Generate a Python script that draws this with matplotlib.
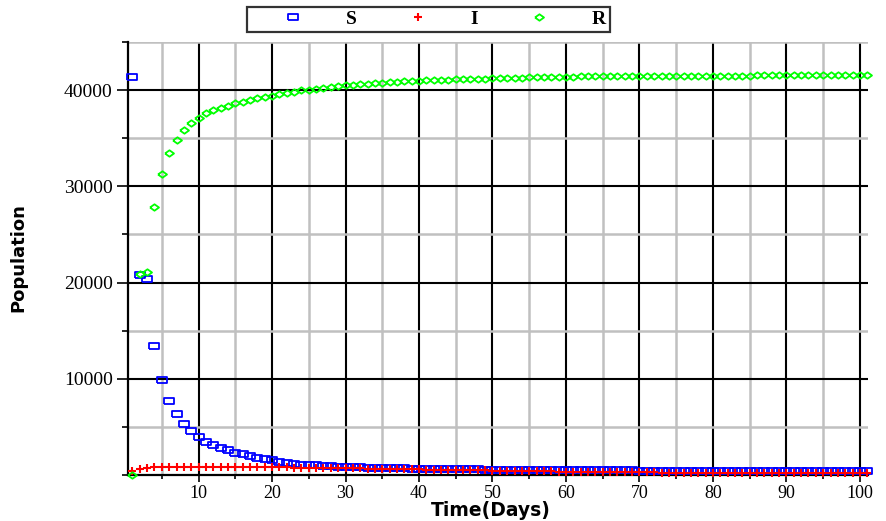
import matplotlib
matplotlib.use("Agg")
import matplotlib.pyplot as plt
from matplotlib.ticker import MultipleLocator, FixedLocator

days = list(range(1, 102))

S = [41400, 20750, 20350, 13400, 9850, 7700, 6350, 5300, 4570, 3950,
     3430, 3100, 2800, 2580, 2300, 2150, 1980, 1790, 1670, 1560,
     1400, 1280, 1160, 1090, 1040, 990, 940, 910, 880, 840,
     810, 790, 770, 750, 730, 710, 695, 680, 665, 650,
     640, 630, 620, 610, 600, 590, 580, 572, 565, 558,
     550, 544, 538, 532, 526, 520, 515, 510, 505, 500,
     496, 492, 488, 484, 480, 477, 474, 471, 468, 465,
     462, 460, 458, 456, 454, 452, 450, 448, 446, 444,
     442, 441, 440, 439, 438, 437, 436, 435, 434, 433,
     432, 431, 430, 429, 428, 427, 426, 425, 424, 423, 422]

I = [380, 580, 700, 780, 830, 860, 875, 880, 880, 878,
     874, 868, 862, 855, 848, 840, 832, 824, 815, 806,
     797, 787, 777, 767, 757, 746, 735, 724, 713, 700,
     688, 676, 664, 652, 640, 628, 616, 604, 592, 580,
     568, 556, 544, 532, 520, 508, 496, 484, 472, 460,
     448, 436, 424, 412, 400, 388, 376, 364, 352, 340,
     330, 320, 312, 304, 296, 290, 284, 278, 273, 268,
     264, 260, 256, 253, 250, 247, 244, 242, 240, 238,
     236, 234, 232, 231, 230, 229, 228, 227, 226, 225,
     224, 223, 222, 221, 220, 219, 218, 217, 216, 215, 214]

R = [0, 20850, 21100, 27850, 31300, 33420, 34800, 35810, 36540, 37120,
     37580, 37920, 38160, 38370, 38610, 38790, 38960, 39130, 39270, 39410,
     39580, 39720, 39830, 39970, 40050, 40160, 40260, 40350, 40430, 40500,
     40560, 40620, 40680, 40730, 40780, 40830, 40870, 40910, 40950, 40990,
     41020, 41050, 41080, 41100, 41120, 41140, 41160, 41180, 41200, 41220,
     41240, 41260, 41280, 41300, 41320, 41340, 41360, 41380, 41390, 41400,
     41410, 41420, 41430, 41440, 41445, 41450, 41455, 41460, 41465, 41470,
     41475, 41480, 41485, 41490, 41495, 41500, 41502, 41504, 41506, 41508,
     41510, 41512, 41514, 41516, 41518, 41520, 41521, 41522, 41523, 41524,
     41525, 41526, 41527, 41528, 41529, 41530, 41531, 41532, 41533, 41534, 41535]

labels = ["S", "I", "R"]
x_ticks = [10, 20, 30, 40, 50, 60, 70, 80, 90, 100]
y_ticks = [10000, 20000, 30000, 40000]

fig = plt.figure(figsize=(8.87, 5.21), dpi=100)
ax = fig.add_axes([128/887, 46/521, (868-128)/887, (475-42)/521])

rect_marker = [(-1.6, -1), (1.6, -1), (1.6, 1), (-1.6, 1), (-1.6, -1)]
diam_marker = [(-1.4, 0), (0, 1), (1.4, 0), (0, -1), (-1.4, 0)]

ax.plot(days, S, linestyle="none", marker=rect_marker, markersize=7,
        markerfacecolor="none", markeredgecolor="#0000ff", markeredgewidth=1.3,
        label=labels[0], clip_on=False, zorder=3)
ax.plot(days, I, linestyle="none", marker="+", markersize=6,
        markeredgecolor="#ff0000", markeredgewidth=1.5,
        label=labels[1], clip_on=False, zorder=4)
ax.plot(days, R, linestyle="none", marker=diam_marker, markersize=6.5,
        markerfacecolor="none", markeredgecolor="#00ff00", markeredgewidth=1.3,
        label=labels[2], clip_on=False, zorder=5)

ax.set_xlim(0.4, 101.1)
ax.set_ylim(0, 45000)

ax.xaxis.set_major_locator(FixedLocator(x_ticks))
ax.xaxis.set_minor_locator(MultipleLocator(5))
ax.yaxis.set_major_locator(FixedLocator(y_ticks))
ax.yaxis.set_minor_locator(MultipleLocator(5000))

ax.grid(which="minor", color="#c0c0c0", linewidth=1.8, zorder=0)
ax.grid(which="major", color="black", linewidth=1.5, zorder=1)
ax.set_axisbelow(True)

for sp in ["top", "right"]:
    ax.spines[sp].set_visible(False)
for sp in ["left", "bottom"]:
    ax.spines[sp].set_linewidth(1.6)
    ax.spines[sp].set_color("black")

serif = ["Liberation Serif", "DejaVu Serif"]
ax.tick_params(axis="y", which="major", direction="out", length=8, width=1.2,
               pad=3, labelsize=14)
ax.tick_params(axis="y", which="minor", direction="out", length=4, width=1.2)
ax.tick_params(axis="x", which="major", direction="out", length=5, width=1.2,
               pad=2, labelsize=13)
ax.tick_params(axis="x", which="minor", direction="out", length=3, width=1.2)
for lab in ax.get_xticklabels() + ax.get_yticklabels():
    lab.set_family(serif)

ax.set_xlabel("Time(Days)", fontsize=13.5, fontweight="bold",
              family=["DejaVu Sans"])
ax.xaxis.label.set_verticalalignment("baseline")
ax.xaxis.set_label_coords((491 - 128) / 740, (475 - 516) / 433)
ax.set_ylabel("Population", fontsize=13, fontweight="bold",
              family=["DejaVu Sans"])
ax.yaxis.set_label_coords((27 - 128) / 740, (475 - 258) / 433)

leg = fig.legend(loc="center", bbox_to_anchor=(428.5/887, 1 - 19.5/521),
                 ncol=3, frameon=True, fancybox=False, edgecolor="black",
                 prop={"family": serif, "weight": "bold", "size": 14},
                 handlelength=4.3, handletextpad=0.55, columnspacing=1.0,
                 borderpad=0.2, borderaxespad=0.0, markerscale=1.0)
leg.get_frame().set_linewidth(1.6)

fig.savefig("out.png", dpi=100)
